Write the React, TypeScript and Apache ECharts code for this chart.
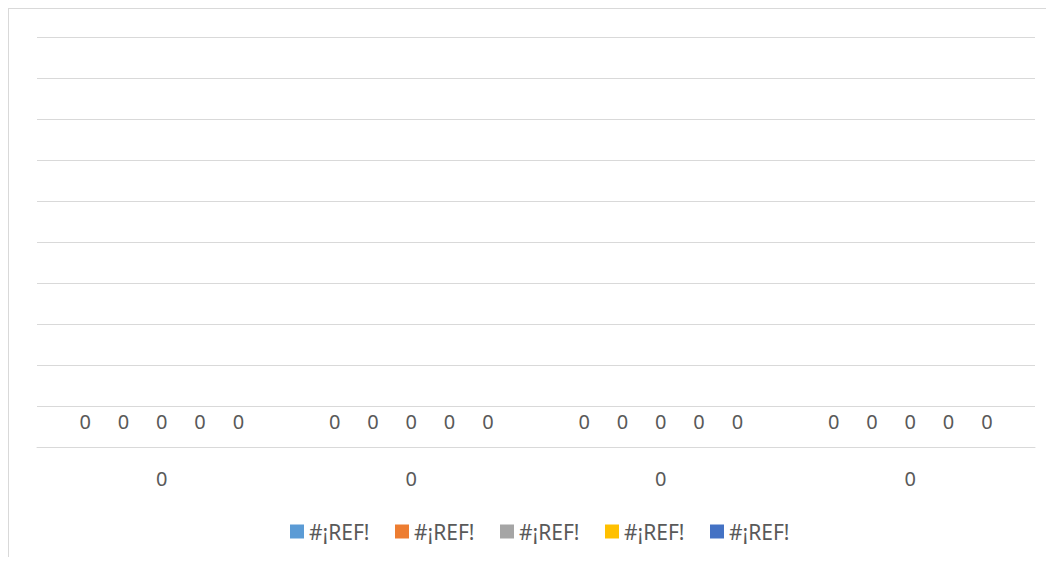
import React, { useEffect, useRef } from "react";
import * as echarts from "echarts";

const categories = ["0", "0", "0", "0"];
const seriesNames = ["#¡REF!", "#¡REF!", "#¡REF!", "#¡REF!", "#¡REF!"];
const seriesColors = ["#5B9BD5", "#ED7D31", "#A5A5A5", "#FFC000", "#4472C4"];
const seriesValues = [
  [0, 0, 0, 0],
  [0, 0, 0, 0],
  [0, 0, 0, 0],
  [0, 0, 0, 0],
  [0, 0, 0, 0],
];

const FONT = "Noto Sans";

export default function App() {
  const ref = useRef<HTMLDivElement>(null);
  useEffect(() => {
    if (!ref.current) return;
    const chart = echarts.init(ref.current, undefined, { renderer: "svg" });
    chart.setOption({
      animation: false,
      textStyle: { fontFamily: FONT },
      grid: { left: 28, right: 19, top: 28, bottom: 118 },
      legend: {
        left: 276,
        top: 507,
        icon: "rect",
        itemWidth: 14,
        itemHeight: 14,
        itemGap: 25.5,
        textStyle: { fontSize: 21, color: "#595959", fontFamily: FONT },
        data: seriesNames.map((n, i) => ({ name: n + "\u200B".repeat(i) })),
      },
      xAxis: {
        type: "category",
        data: categories,
        axisLine: { lineStyle: { color: "#d9d9d9", width: 1 } },
        axisTick: { show: false },
        axisLabel: { fontSize: 20, color: "#595959", margin: 21, fontFamily: FONT },
      },
      yAxis: {
        type: "value",
        min: 0,
        max: 10,
        interval: 1,
        axisLabel: { show: false },
        axisLine: { show: false },
        axisTick: { show: false },
        splitLine: { lineStyle: { color: "#d9d9d9", width: 1 } },
      },
      series: seriesValues.map((vals, i) => ({
        type: "bar",
        name: seriesNames[i] + "\u200B".repeat(i),
        data: vals,
        barGap: "27%",
        barCategoryGap: "26.5%",
        itemStyle: { color: seriesColors[i] },
        label: {
          show: true,
          position: "top",
          distance: 16,
          fontSize: 20,
          color: "#595959",
          fontFamily: FONT,
        },
      })),
    });
    return () => chart.dispose();
  }, []);
  return (
    <div
      style={{
        width: 1046,
        height: 557,
        marginBottom: -8,
        boxSizing: "border-box",
        borderTop: "1px solid #d9d9d9",
        borderLeft: "1px solid #d9d9d9",
      }}
    >
      <div ref={ref} style={{ width: 1045, height: 556 }} />
    </div>
  );
}
